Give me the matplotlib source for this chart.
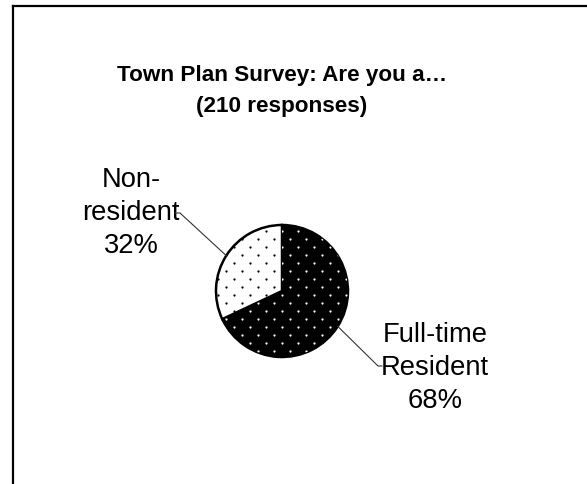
import numpy as np
import matplotlib
matplotlib.use("Agg")
import matplotlib.pyplot as plt

# Survey data
categories = ["Full-time\nResident", "Non-\nresident"]
shares = [68, 32]
title_lines = ["Town Plan Survey: Are you a…", "(210 responses)"]

# Styling
face_colors = ["black", "white"]
dot_colors = ["white", "black"]
FONT = "Liberation Sans"

W, H = 587, 485
fig = plt.figure(figsize=(W / 100, H / 100), dpi=100)
ax = fig.add_axes([0, 0, 1, 1])


def py(y):
    """Convert a top-down pixel row into the axes' upward y coordinate."""
    return H - y


cx, cy, r = 282, py(292), 66
wedges, _ = ax.pie(
    shares,
    colors=face_colors,
    startangle=90,
    counterclock=False,
    center=(cx, cy),
    radius=r,
    frame=True,
    wedgeprops=dict(edgecolor="black", linewidth=1.8),
)
ax.set_xlim(0, W)
ax.set_ylim(0, H)
ax.set_aspect("equal")
ax.axis("off")

# Dotted fill texture: staggered grid, clipped to each wedge
gx, gy = [], []
for j, yrow in enumerate(range(0, H, 8)):
    start = 2 if j % 2 == 0 else 10
    for x in range(start, W, 16):
        if abs(x - cx) <= r + 4 and abs(py(yrow) - cy) <= r + 4:
            gx.append(x)
            gy.append(py(yrow))
for w, dc in zip(wedges, dot_colors):
    sc = ax.scatter(gx, gy, s=2.6, c=dc, marker="o", linewidths=0, zorder=3)
    sc.set_clip_path(w)

# Labels with leader lines
label_pos = [(435, 368), (131, 213)]
elbows = [((378, 367), (382, 367)), ((180, 214), (175, 214))]
for w, lab, share, (tx, ty), (e1, e2) in zip(wedges, categories, shares, label_pos, elbows):
    mid = np.deg2rad((w.theta1 + w.theta2) / 2)
    ex, ey = cx + r * np.cos(mid), cy + r * np.sin(mid)
    ax.plot([ex, e1[0], e2[0]], [ey, py(e1[1]), py(e2[1])],
            color="#333333", lw=0.8, zorder=4)
    ax.text(tx, py(ty), f"{lab}\n{share}%", ha="center", va="center",
            fontsize=19.7, family=FONT, linespacing=1.33, color="black")

# Title
ax.text(282, py(91), "\n".join(title_lines), ha="center", va="center",
        fontsize=16.2, fontweight="bold", family=FONT, linespacing=1.62)

# Chart area border
ax.plot([13, 13], [0, py(7)], color="black", lw=1.6, clip_on=False,
        solid_capstyle="projecting")
ax.plot([13, W], [py(7), py(7)], color="black", lw=1.6, clip_on=False,
        solid_capstyle="projecting")

fig.savefig("out.png", dpi=100, facecolor="white")
